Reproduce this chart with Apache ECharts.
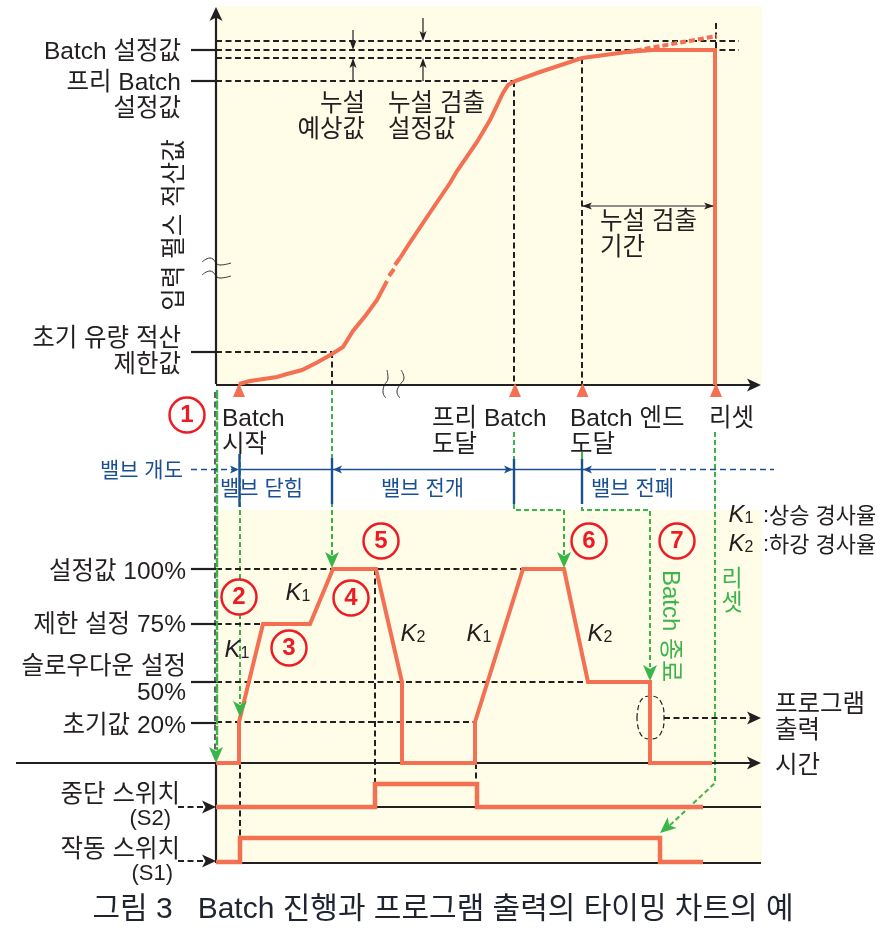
<!DOCTYPE html>
<html>
<head>
<meta charset="utf-8">
<style>html,body{margin:0;padding:0;background:#fff}#chart{width:891px;height:930px}</style>
<script src="https://cdn.jsdelivr.net/npm/echarts@6/dist/echarts.min.js"></script>
</head>
<body>
<div id="chart"></div>
<script>
//图上读出来的数值，横轴=时间，纵轴=图面高度
var panels = [[217,6,762,384],[217,510,762,864]];

var integrateCurve = [[239,384],[250,381],[277,377],[287,374],[302,370],[318,362],[332,354],[343,347],[353,331],[366,315],[377,300],[387,281]];
var integrateCurve2 = [[400,258],[407,247],[427,217],[450,183],[457,171],[477,142],[490,120],[503,93],[508,85],[515,81],[540,72],[582,58],[627,52],[653,50],[715,50],[715,385]];
var integrateBits = [[[389,276],[394,269]],[[395,265],[400,258]]];
var leakCurve = [[627,52],[717,36]];
var outputCurve = [[216,763],[239,763],[239,722],[263,624],[310,624],[333,569],[376,569],[402,682],[402,763],[475,763],[475,722],[523,569],[564,569],[588,682],[650,682],[650,763],[712,763]];
var stopSwitch = [[216,807],[375,807],[375,784],[477,784],[477,807],[703,807]];
var runSwitch = [[216,862],[240,862],[240,838],[660,838],[660,862],[703,862]];

var solidBlack = [
	[[216,384],[216,12]],[[216,385],[752,385]],[[16,763],[752,763]],[[216,763],[216,863]],
	[[216,807],[761,807]],[[216,863],[761,863]],
	[[191,50],[216,50]],[[191,81],[216,81]],[[191,352],[216,352]],
	[[191,569],[216,569]],[[191,624],[216,624]],[[191,682],[216,682]],[[191,723],[216,723]]
];
var dashedBlack = [
	[[216,41],[739,41]],[[216,50],[739,50]],[[216,58],[582,58]],[[216,81],[514,81]],[[216,352],[332,352]],
	[[332,352],[332,384]],[[514,81],[514,384]],[[582,58],[582,384]],[[716,23],[716,50]],
	[[216,569],[522,569]],[[216,624],[262,624]],[[216,682],[587,682]],[[216,722],[475,722]],
	[[240,763],[240,838]],[[375,569],[375,783]],[[476,763],[476,783]],
	[[178,807],[205,807]],[[178,861],[205,861]],[[664,718],[752,718]]
];
var axisDash = [[215,392],[215,763]];
var thinBlack = [[[353,30],[353,44]],[[353,81],[353,64]],[[423,18],[423,35]],[[423,81],[423,64]],[[582,206],[714,206]]];
var blueSolid = [[[239,469.5],[650,469.5]],[[239.5,454],[239.5,507]],[[332,458],[332,504]],[[514,459],[514,504]],[[582,459],[582,504]]];
var blueDashed = [[[191,469.5],[232,469.5]],[[650,469.5],[774,469.5]]];
var greenDashed = [
	[[240,454],[240,704]],[[332,390],[332,556]],
	[[514,432],[514,510],[564,510],[564,555]],[[582,459],[582,510],[650,510],[650,667]],
	[[715,432],[715,783],[668,827]]
];
var greenAxis = [[217,390],[217,750]];
var greenSolid = [[[582,452],[582,459]]];
var waves = [
	[[387,370],[388,378],[384,386],[383,392],[386,398]],[[401,370],[404,378],[399,386],[397,392],[400,398]],
	[[202,262],[210,258],[220,265],[231,263]],[[202,275],[210,271],[220,278],[231,276]]
];
var ringOutline = [[637,718],[640,702],[650,696],[661,702],[664,718],[661,733],[650,739],[640,733],[637,718]];

//箭头：[尖端x,尖端y,来向x,来向y]
var blackArrows = [[216,7,216,30],[761,385,730,385],[761,763,730,763],[761,718,730,718],[216,807,190,807],[216,861,190,861]];
var smallArrows = [[353,50,353,30],[353,58,353,81],[423,41,423,18],[423,58,423,81],[582,206,610,206],[714,206,690,206]];
var blueArrows = [[239,469.5,220,469.5],[333,469.5,350,469.5],[513,469.5,490,469.5],[583,469.5,600,469.5]];
var greenArrows = [[216,763,216,740],[240,717,240,695],[332,568,332,545],[564,568,564,545],[650,681,650,660],[660,833,680,816]];
var startMarks = [[239,390],[515,390],[582.5,390],[716,390]];

var circleNumbers = [[187,415,'1'],[239,597,'2'],[289,648,'3'],[351,598,'4'],[381,541,'5'],[589,541,'6'],[677,541,'7']];

var blackLabels = [
	[181,52,'Batch 설정값','right'],[181,96,'프리 Batch\n설정값','right'],[181,352,'초기 유량 적산\n제한값','right'],
	[365,117,'누설\n예상값','right'],[388,117,'누설 검출\n설정값','left'],[600,235,'누설 검출\n기간','left'],
	[222,432,'Batch\n시작','left'],[432,432,'프리 Batch\n도달','left'],[570,432,'Batch 엔드\n도달','left'],[709,419,'리셋','left'],
	[186,572,'설정값 100%','right'],[186,625,'제한 설정 75%','right'],[186,680,'슬로우다운 설정\n50%','right'],[186,726,'초기값 20%','right'],
	[180,795,'중단 스위치','right'],[180,850,'작동 스위치','right'],
	[775,718,'프로그램\n출력','left'],[775,766,'시간','left']
];
var slopeNotes = [[769,517,'상승 경사율','left'],[769,546,'하강 경사율','left'],[763,516,':','left'],[763,545,':','left']];
var switchTags = [[171,819,'(S2)'],[173,874,'(S1)']];
var blueLabels = [[183,471,'밸브 개도','right'],[220,489,'밸브 닫힘','left'],[381,489,'밸브 전개','left'],[591,489,'밸브 전폐','left']];
var slopeLabels = [[298,593,'1'],[237,650,'1'],[413,634,'2'],[479,634,'1'],[600,634,'2'],[741,515,'1'],[741,544,'2']];
var yTitle = '입력 펄스 적산값';
var caption = '그림 3   Batch 진행과 프로그램 출력의 타이밍 차트의 예';

var FONT = '"Liberation Sans","Noto Sans CJK KR",sans-serif';
var ORANGE = '#F37052', BLACK = '#231F20', BLUE = '#1B4F93', GREEN = '#3AB54A', RED = '#ED1C24', CREAM = '#FFFCE8';
var series = [];

function addLine(points, color, width, dash, z, smooth){
	series.push({
		type: 'line', data: points, showSymbol: false, symbol: 'none', silent: true, animation: false,
		clip: false, z: z, smooth: smooth || false,
		lineStyle: { color: color, width: width, type: dash || 'solid', cap: 'butt', join: 'miter' }
	});
}
function addArrows(list, color, w, h, z){
	var barb = 'path://M5,0L10,14L5,10.5L0,14Z';
	series.push({
		type: 'scatter', silent: true, animation: false, clip: false, z: z,
		data: list.map(function(a){
			var dx = a[0]-a[2], dy = a[1]-a[3], len = Math.sqrt(dx*dx+dy*dy);
			return {
				value: [a[0]-dx/len*h/2, a[1]-dy/len*h/2],
				symbol: barb, symbolSize: [w,h],
				symbolRotate: Math.atan2(-dx,-dy)*180/Math.PI,
				itemStyle: { color: color, opacity: 1 }
			};
		})
	});
}
function addTexts(items, base){
	series.push({
		type: 'scatter', silent: true, animation: false, clip: false, z: 20, symbolSize: 1,
		itemStyle: { color: 'transparent', opacity: 1 },
		data: items.map(function(t){
			return {
				value: [t[0], t[1]],
				label: Object.assign({
					show: true, position: 'inside', formatter: t[2], align: t[3] || 'center', verticalAlign: 'middle',
					fontFamily: FONT
				}, base)
			};
		})
	});
}

//底色
series.push({
	type: 'custom', silent: true, animation: false, z: 0, data: panels,
	encode: { x: [0,2], y: [1,3] },
	renderItem: function(params, api){
		var a = api.coord([api.value(0), api.value(1)]), b = api.coord([api.value(2), api.value(3)]);
		return { type: 'rect', shape: { x: a[0], y: a[1], width: b[0]-a[0], height: b[1]-a[1] }, style: { fill: CREAM } };
	}
});

thinBlack.forEach(function(p){ addLine(p, BLACK, 1.2, null, 2); });
waves.forEach(function(p){ addLine(p, '#333', 1, null, 2, true); });
greenDashed.forEach(function(p){ addLine(p, GREEN, 2, [5,3], 2); });
greenSolid.forEach(function(p){ addLine(p, GREEN, 2, null, 2); });
dashedBlack.forEach(function(p){ addLine(p, BLACK, 2, [6,3.5], 2); });
addLine(axisDash, BLACK, 1.4, [6,3.5], 2);
addLine(greenAxis, GREEN, 2.4, [9,1.5], 2);
solidBlack.forEach(function(p){ addLine(p, BLACK, 2.2, null, 3); });
addLine(ringOutline, BLACK, 1.2, [5,3], 2, true);
blueSolid.forEach(function(p, i){ addLine(p, BLUE, i ? 2.4 : 1.4, null, 3); });
blueDashed.forEach(function(p){ addLine(p, BLUE, 1.4, [6,4], 3); });

addLine(leakCurve, ORANGE, 4, [6,3], 4);
addLine(integrateCurve, ORANGE, 4, null, 5);
addLine(integrateCurve2, ORANGE, 4, null, 5);
integrateBits.forEach(function(p){ addLine(p, ORANGE, 4, null, 5); });
addLine(outputCurve, ORANGE, 4, null, 5);
addLine(stopSwitch, ORANGE, 4.5, null, 5);
addLine(runSwitch, ORANGE, 4.5, null, 5);

addArrows(blackArrows, BLACK, 13, 14, 6);
addArrows(smallArrows, BLACK, 7, 10, 6);
addArrows(blueArrows, BLUE, 8, 9, 6);
addArrows(greenArrows, GREEN, 14, 16, 6);

series.push({
	type: 'scatter', silent: true, animation: false, clip: false, z: 6,
	symbol: 'triangle', symbolSize: [12,14], itemStyle: { color: ORANGE, opacity: 1 }, data: startMarks
});
series.push({
	type: 'scatter', silent: true, animation: false, clip: false, z: 7,
	symbol: 'circle', symbolSize: 35,
	data: circleNumbers.map(function(c, i){
		return {
			value: [c[0], c[1]],
			itemStyle: { color: i ? CREAM : '#fff', borderColor: RED, borderWidth: 2.5, opacity: 1 },
			label: { show: true, position: 'inside', formatter: c[2], color: RED, fontSize: 24, fontWeight: 'bold', fontFamily: FONT }
		};
	})
});

addTexts(blackLabels, { color: BLACK, fontSize: 24.5, lineHeight: 26 });
addTexts(slopeNotes, { color: BLACK, fontSize: 22 });
addTexts(switchTags.map(function(t){ return [t[0], t[1], t[2], 'right']; }), { color: BLACK, fontSize: 22 });
addTexts(blueLabels, { color: BLUE, fontSize: 21 });
addTexts(slopeLabels.map(function(s){ return [s[0], s[1], '{k|K}{s|' + s[2] + '}', 'center']; }), {
	rich: {
		k: { fontFamily: FONT, fontStyle: 'italic', fontSize: 24, color: BLACK },
		s: { fontFamily: FONT, fontSize: 16, color: BLACK, verticalAlign: 'bottom' }
	}
});
addTexts([[175,225,yTitle,'center']], { color: BLACK, fontSize: 24.5, rotate: 90 });
addTexts([[670,626,'Batch 종료','center']], { color: GREEN, fontSize: 24, rotate: -90 });
addTexts([[732,592,'리\n셋','center']], { color: GREEN, fontSize: 23, lineHeight: 24 });
addTexts([[443,910,caption,'center']], { color: '#1F2430', fontSize: 30 });

var chart = echarts.init(document.getElementById('chart'));
chart.setOption({
	animation: false,
	backgroundColor: '#fff',
	grid: { left: 0, right: 0, top: 0, bottom: 0 },
	xAxis: { type: 'value', min: 0, max: 891, show: false },
	yAxis: { type: 'value', min: 0, max: 930, inverse: true, show: false },
	series: series
});
</script>
</body>
</html>
